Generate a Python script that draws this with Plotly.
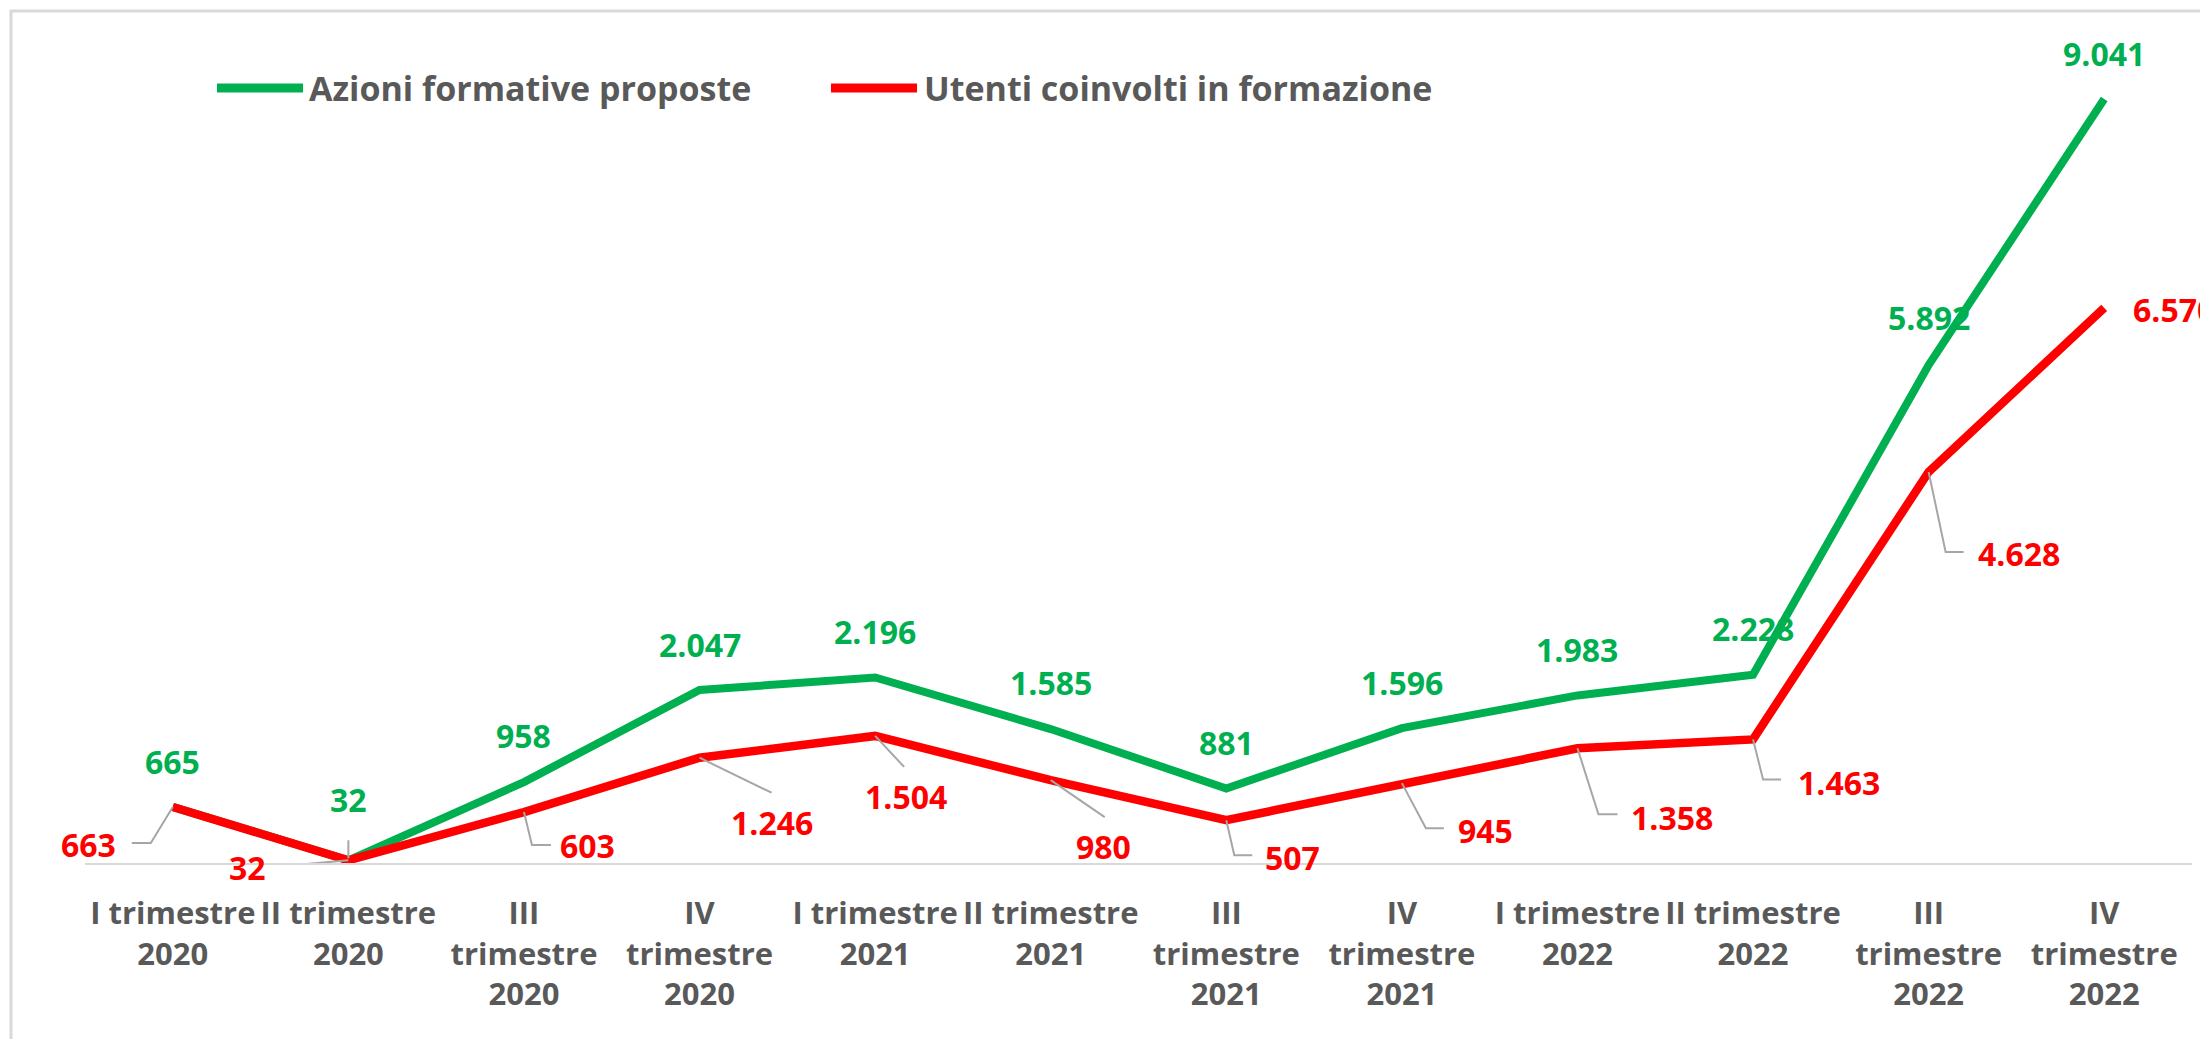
import plotly.graph_objects as go

# ---------------- data ----------------
categories = [
    "I trimestre 2020", "II trimestre 2020", "III trimestre 2020", "IV trimestre 2020",
    "I trimestre 2021", "II trimestre 2021", "III trimestre 2021", "IV trimestre 2021",
    "I trimestre 2022", "II trimestre 2022", "III trimestre 2022", "IV trimestre 2022",
]
tick_labels = [
    "I trimestre<br>2020", "II trimestre<br>2020", "III<br>trimestre<br>2020", "IV<br>trimestre<br>2020",
    "I trimestre<br>2021", "II trimestre<br>2021", "III<br>trimestre<br>2021", "IV<br>trimestre<br>2021",
    "I trimestre<br>2022", "II trimestre<br>2022", "III<br>trimestre<br>2022", "IV<br>trimestre<br>2022",
]
azioni = [665, 32, 958, 2047, 2196, 1585, 881, 1596, 1983, 2228, 5892, 9041]
utenti = [663, 32, 603, 1246, 1504, 980, 507, 945, 1358, 1463, 4628, 6570]
series_names = ["Azioni formative proposte", "Utenti coinvolti in formazione"]

# ---------------- styling / label placement (pixels) ----------------
GREEN = "#00B050"
RED = "#FF0000"
GREY_TXT = "#595959"
LEADER = "#A6A6A6"
FONT = "Open Sans"
W, H = 2208, 1039
BODY = 8  # page body margin offset
ML, MR, MT, MB = 85 - BODY, 16 + BODY, 18 - BODY, 176 + BODY

green_dy = [45, 61, 47, 46, 46, 47, 46, 46, 46, 46, 48, 46]  # label above point
red_off = [(-84, 38), (-101, 7), (64, 33), (72, 65), (31, 61), (53, 66),
           (66, 37), (84, 47), (95, 69), (86, 43), (90, 82), (70, 2)]
red_leaders = [
    [(0, 0), (-22, 36), (-41, 36)],
    [(0, 0), (-68, 6)],
    [(0, 0), (8, 33), (27, 33)],
    [(0, 0), (72, 35)],
    [(0, 0), (29, 31)],
    [(0, 0), (54, 37)],
    [(0, 0), (8, 35), (26, 35)],
    [(0, 0), (24, 45), (42, 45)],
    [(0, 0), (21, 66), (40, 66)],
    [(0, 0), (10, 40), (28, 40)],
    [(0, 0), (17, 80), (35, 80)],
    None,
]
green_leaders = {1: [(0, -2), (0, -20)]}


def fmt(v):
    return f"{v:,}".replace(",", ".")


def pix_path(pts):
    # y in pixel mode is measured upward, so flip screen-down offsets
    return "M" + " L".join(f"{x},{-y}" for x, y in pts)


fig = go.Figure()
fig.add_trace(go.Scatter(x=categories, y=azioni, mode="lines", name=series_names[0],
                         line=dict(color=GREEN, width=8), hoverinfo="x+y"))
fig.add_trace(go.Scatter(x=categories, y=utenti, mode="lines", name=series_names[1],
                         line=dict(color=RED, width=8.5), hoverinfo="x+y"))

annotations = []
shapes = []

# data labels
for i, (c, v) in enumerate(zip(categories, azioni)):
    annotations.append(dict(x=c, y=v, xref="x", yref="y", text=fmt(v), showarrow=False,
                            yshift=green_dy[i], xanchor="center", yanchor="middle",
                            font=dict(family=FONT, size=32, color=GREEN, weight="bold")))
for i, (c, v) in enumerate(zip(categories, utenti)):
    dx, dy = red_off[i]
    annotations.append(dict(x=c, y=v, xref="x", yref="y", text=fmt(v), showarrow=False,
                            xshift=dx, yshift=-dy, xanchor="center", yanchor="middle",
                            font=dict(family=FONT, size=32, color=RED, weight="bold")))

# leader lines
for i, pts in enumerate(red_leaders):
    if pts:
        shapes.append(dict(type="path", xref="x", yref="y", xsizemode="pixel", ysizemode="pixel",
                           xanchor=i, yanchor=utenti[i], path=pix_path(pts),
                           line=dict(color=LEADER, width=2), layer="above"))
for i, pts in green_leaders.items():
    shapes.append(dict(type="path", xref="x", yref="y", xsizemode="pixel", ysizemode="pixel",
                       xanchor=i, yanchor=azioni[i], path=pix_path(pts),
                       line=dict(color=LEADER, width=2), layer="above"))

# custom legend (pixel positions relative to plot-area top-left)
legend_items = [(series_names[0], GREEN, 132, 218, 222), (series_names[1], RED, 746, 832, 837)]
for name, col, x0, x1, tx in legend_items:
    shapes.append(dict(type="line", xref="paper", yref="paper", xsizemode="pixel", ysizemode="pixel",
                       xanchor=0, yanchor=1, x0=x0, x1=x1, y0=-70, y1=-70,
                       line=dict(color=col, width=9)))
    annotations.append(dict(x=0, y=1, xref="paper", yref="paper", xshift=tx, yshift=-70,
                            xanchor="left", yanchor="middle", text=name, showarrow=False,
                            font=dict(family=FONT, size=34, color=GREY_TXT, weight="bold")))

# chart border
shapes.append(dict(type="rect", xref="paper", yref="paper", xsizemode="pixel", ysizemode="pixel",
                   xanchor=0, yanchor=1, x0=11 - 85, x1=W + 40, y0=18 - 11, y1=-(H + 40),
                   line=dict(color="#D9D9D9", width=3), fillcolor="rgba(0,0,0,0)", layer="below"))

fig.update_layout(
    width=W, height=H, autosize=False,
    margin=dict(l=ML, r=MR, t=MT, b=MB, pad=0),
    paper_bgcolor="white", plot_bgcolor="white",
    showlegend=False,
    annotations=annotations, shapes=shapes,
    font=dict(family=FONT),
    xaxis=dict(type="category", range=[-0.5, 11.5], tickvals=categories, ticktext=tick_labels,
               showline=True, linecolor="#D9D9D9", linewidth=2, showgrid=False, zeroline=False,
               ticks="", ticklabelstandoff=22, layer="below traces",
               tickfont=dict(family=FONT, size=31, color=GREY_TXT, weight="bold")),
    yaxis=dict(range=[0, 10000], visible=False, showgrid=False, zeroline=False),
)

fig.write_html("out.html")
